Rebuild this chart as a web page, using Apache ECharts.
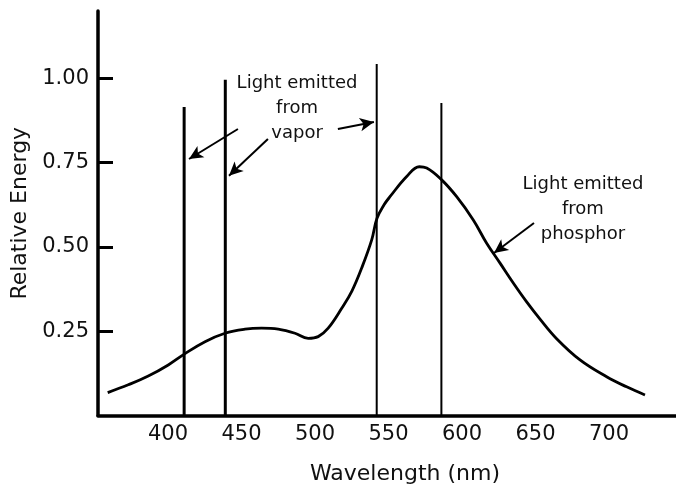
<!DOCTYPE html>
<html>
<head>
<meta charset="utf-8">
<script src="https://cdn.jsdelivr.net/npm/echarts@6/dist/echarts.min.js"></script>
<style>
  html, body { margin: 0; padding: 0; background: #fff; }
  #main { width: 676px; height: 487px; }
</style>
</head>
<body>
<div id="main"></div>
<script>
// phosphor emission curve (wavelength nm -> relative energy)
var wavelengths = [359, 373, 386.6, 400.2, 411.1, 425.2, 438.8, 452.4, 463.7, 475, 486.4, 495.4,
    502.2, 509, 518.2, 525.2, 532, 538.6, 542.2, 547, 551, 562.4, 571, 576, 586.2, 596.4, 607.7,
    616.8, 625.9, 634.9, 644, 653.1, 664.4, 680.3, 698.4, 712, 724.5];
var energies = [0.068, 0.091, 0.117, 0.150, 0.182, 0.219, 0.244, 0.256, 0.259, 0.256, 0.244, 0.229,
    0.234, 0.259, 0.318, 0.370, 0.440, 0.521, 0.585, 0.625, 0.649, 0.709, 0.738, 0.734, 0.699,
    0.649, 0.580, 0.511, 0.452, 0.393, 0.337, 0.286, 0.228, 0.165, 0.115, 0.085, 0.061];

// mercury vapor lines
var lineWavelengths = [411, 439, 542, 586];
var lineHeights = [0.915, 0.996, 1.043, 0.927];

// ticks
var xTicks = [400, 450, 500, 550, 600, 650, 700];
var yTicks = [0.25, 0.5, 0.75, 1.0];

// annotations: [fromX, fromY, toX, toY]
var arrows = [
    [447.6, 0.850, 414.3, 0.761],
    [468.0, 0.820, 441.5, 0.711],
    [515.6, 0.850, 540.1, 0.871],
    [649.0, 0.571, 621.8, 0.482]
];
var notes = ['Light emitted\nfrom\nvapor', 'Light emitted\nfrom\nphosphor'];
var notePos = [[487.8, 0.911], [682.3, 0.613]];

var FONT = 'DejaVu Sans';

var curve = [];
for (var i = 0; i < wavelengths.length; i++) {
    curve.push([wavelengths[i], energies[i]]);
}
var spectral = [];
for (var j = 0; j < lineWavelengths.length; j++) {
    spectral.push([lineWavelengths[j], lineHeights[j]]);
}

var myChart = echarts.init(document.getElementById('main'));

var option = {
    animation: false,
    grid: { left: 98, right: 0, top: 11, bottom: 71.5, outerBoundsMode: 'none', containLabel: false },
    xAxis: {
        type: 'value',
        min: 352.4,
        max: 745.6,
        splitLine: { show: false },
        axisLine: { lineStyle: { color: '#000', width: 3.5 } },
        axisTick: { show: false },
        axisLabel: {
            customValues: xTicks,
            color: '#111',
            fontFamily: FONT,
            fontSize: 21,
            margin: 9
        },
        name: 'Wavelength (nm)',
        nameLocation: 'middle',
        nameGap: 48,
        nameTextStyle: { color: '#111', fontFamily: FONT, fontSize: 22, padding: [0, 0, 0, 36] }
    },
    yAxis: {
        type: 'value',
        min: 0,
        max: 1.2,
        splitLine: { show: false },
        axisLine: { show: true, lineStyle: { color: '#000', width: 3.5 } },
        axisTick: {
            show: true,
            inside: true,
            length: 15,
            customValues: yTicks,
            lineStyle: { color: '#000', width: 3 }
        },
        axisLabel: {
            customValues: yTicks,
            color: '#111',
            fontFamily: FONT,
            fontSize: 21,
            margin: 9,
            formatter: function (v) { return v.toFixed(2); }
        },
        name: 'Relative Energy',
        nameLocation: 'middle',
        nameGap: 63,
        nameTextStyle: { color: '#111', fontFamily: FONT, fontSize: 22 }
    },
    series: [
        {
            type: 'custom',
            data: spectral,
            silent: true,
            renderItem: function (params, api) {
                var top = api.coord([api.value(0), api.value(1)]);
                var bottom = api.coord([api.value(0), 0]);
                return {
                    type: 'line',
                    shape: { x1: top[0], y1: top[1], x2: bottom[0], y2: bottom[1] },
                    style: { stroke: '#000', lineWidth: params.dataIndex < 2 ? 3 : 2 }
                };
            }
        },
        {
            type: 'line',
            data: curve,
            smooth: 0.4,
            showSymbol: false,
            silent: true,
            lineStyle: { color: '#000', width: 2.8 },
            markLine: {
                silent: true,
                symbol: ['none', 'arrow'],
                symbolSize: [10, 14],
                label: { show: false },
                lineStyle: { color: '#000', width: 2, type: 'solid' },
                data: arrows.map(function (a) {
                    return [{ coord: [a[0], a[1]] }, { coord: [a[2], a[3]] }];
                })
            },
            markPoint: {
                silent: true,
                symbol: 'circle',
                symbolSize: 0,
                label: {
                    show: true,
                    position: 'inside',
                    color: '#111',
                    fontFamily: FONT,
                    fontSize: 18,
                    lineHeight: 25,
                    align: 'center',
                    formatter: function (p) { return notes[p.dataIndex]; }
                },
                data: notePos.map(function (p) { return { coord: p }; })
            }
        }
    ]
};

myChart.setOption(option);
</script>
</body>
</html>
